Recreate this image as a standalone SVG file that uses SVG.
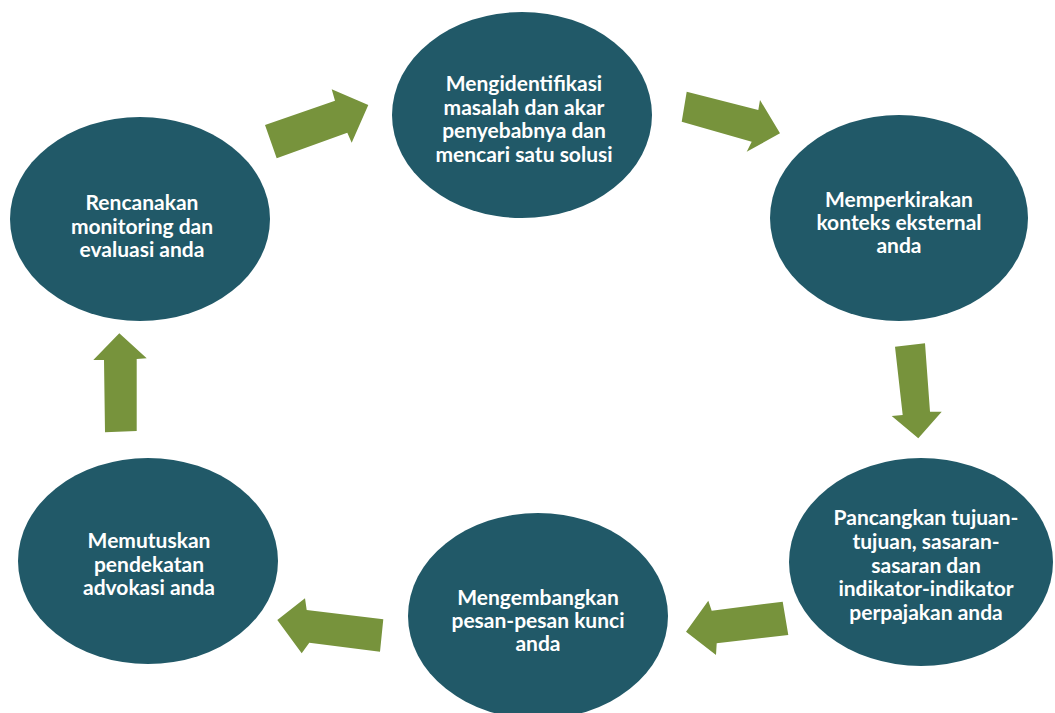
<svg xmlns="http://www.w3.org/2000/svg" width="1055" height="713" viewBox="0 0 1055 713">
<style>
.n{fill:#215968}
.t{fill:#ffffff;font-family:Lato,"Liberation Sans",sans-serif;font-weight:700;font-size:21px;text-anchor:middle}
.a{fill:#77933C}
</style>
<rect width="1055" height="713" fill="#ffffff"/>
<g id="connectors">
<polygon class="a" points="265,125 335,100.7 331.7,89.3 368.3,105 351.7,142.7 347.3,132.7 276.7,158.3"/>
<polygon class="a" points="686.7,91.7 758.3,110 760,100 780,133.3 746.7,151.7 751.7,141.7 681.7,121.7"/>
<polygon class="a" points="895,346.7 925,343.3 930,411.7 941.7,411.7 918.3,438.3 891.7,416 902.7,415"/>
<polygon class="a" points="782.7,601.7 711.7,610.7 708.3,600.7 686,631.7 716,655 716.7,643.3 788.3,635"/>
<polygon class="a" points="383.3,619.3 306.7,610 305,598.3 277.3,620 301.7,653.3 309.3,642.7 380,651.7"/>
<polygon class="a" points="119.3,333.3 146.7,358.3 136.7,359 136.7,431 105,432.3 104,360 93.3,360"/>
</g>
<g id="node1">
<ellipse class="n" cx="522" cy="115" rx="130" ry="103"/>
<text class="t"><tspan x="524" y="91">Mengidentifikasi</tspan><tspan x="524" y="114.5">masalah dan akar</tspan><tspan x="524" y="138">penyebabnya dan</tspan><tspan x="524" y="161.5">mencari satu solusi</tspan></text>
</g>
<g id="node2">
<ellipse class="n" cx="899" cy="218" rx="129" ry="103"/>
<text class="t"><tspan x="899" y="207">Memperkirakan</tspan><tspan x="899" y="230">konteks eksternal</tspan><tspan x="899" y="253">anda</tspan></text>
</g>
<g id="node3">
<ellipse class="n" cx="921" cy="562" rx="132" ry="104"/>
<text class="t"><tspan x="926" y="525">Pancangkan tujuan-</tspan><tspan x="926" y="548.75">tujuan, sasaran-</tspan><tspan x="926" y="572.5">sasaran dan</tspan><tspan x="926" y="596.25">indikator-indikator</tspan><tspan x="926" y="620">perpajakan anda</tspan></text>
</g>
<g id="node4">
<ellipse class="n" cx="538" cy="616" rx="130" ry="103"/>
<text class="t"><tspan x="538" y="605">Mengembangkan</tspan><tspan x="538" y="628">pesan-pesan kunci</tspan><tspan x="538" y="651">anda</tspan></text>
</g>
<g id="node5">
<ellipse class="n" cx="148" cy="561" rx="130" ry="103"/>
<text class="t"><tspan x="149" y="548">Memutuskan</tspan><tspan x="149" y="571.5">pendekatan</tspan><tspan x="149" y="595">advokasi anda</tspan></text>
</g>
<g id="node6">
<ellipse class="n" cx="140" cy="219" rx="130" ry="102"/>
<text class="t"><tspan x="142" y="210">Rencanakan</tspan><tspan x="142" y="233.5">monitoring dan</tspan><tspan x="142" y="257">evaluasi anda</tspan></text>
</g>
</svg>
